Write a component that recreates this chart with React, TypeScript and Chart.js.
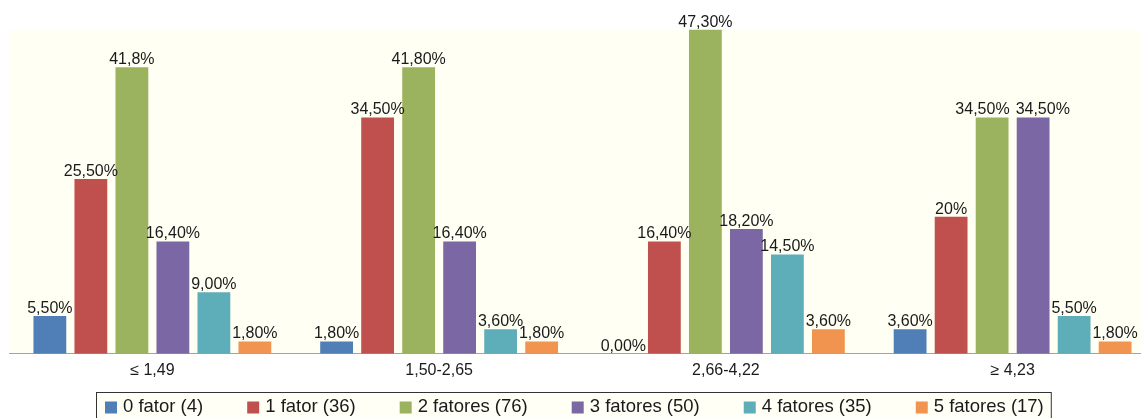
import React, { useEffect, useRef } from 'react';
import { Chart, registerables } from 'chart.js';

Chart.register(...registerables);

const FONT = '"Liberation Sans", Arial, Helvetica, sans-serif';

const categories = ['≤ 1,49', '1,50-2,65', '2,66-4,22', '≥ 4,23'];
const seriesNames = ['0 fator (4)', '1 fator (36)', '2 fatores (76)', '3 fatores (50)', '4 fatores (35)', '5 fatores (17)'];
const seriesColors = ['#4f7fb6', '#c0504d', '#9bb35e', '#7b67a3', '#5eaeb9', '#f09450'];

const fator0 = [5.5, 1.8, 0.0, 3.6];
const fator1 = [25.5, 34.5, 16.4, 20.0];
const fator2 = [41.8, 41.8, 47.3, 34.5];
const fator3 = [16.4, 16.4, 18.2, 34.5];
const fator4 = [9.0, 3.6, 14.5, 5.5];
const fator5 = [1.8, 1.8, 3.6, 1.8];

const labels0 = ['5,50%', '1,80%', '0,00%', '3,60%'];
const labels1 = ['25,50%', '34,50%', '16,40%', '20%'];
const labels2 = ['41,8%', '41,80%', '47,30%', '34,50%'];
const labels3 = ['16,40%', '16,40%', '18,20%', '34,50%'];
const labels4 = ['9,00%', '3,60%', '14,50%', '5,50%'];
const labels5 = ['1,80%', '1,80%', '3,60%', '1,80%'];

const seriesValues = [fator0, fator1, fator2, fator3, fator4, fator5];
const seriesLabels = [labels0, labels1, labels2, labels3, labels4, labels5];

const plotBackground = {
  id: 'plotBackground',
  beforeDraw(chart: any) {
    const { ctx, chartArea } = chart;
    ctx.save();
    ctx.fillStyle = '#fffff3';
    ctx.fillRect(chartArea.left, chartArea.top, chartArea.right - chartArea.left, chartArea.bottom - chartArea.top);
    ctx.restore();
  },
};

const valueLabels = {
  id: 'valueLabels',
  afterDatasetsDraw(chart: any) {
    const { ctx } = chart;
    ctx.save();
    ctx.font = `16px ${FONT}`;
    ctx.fillStyle = '#1a1a1a';
    ctx.textAlign = 'center';
    ctx.textBaseline = 'alphabetic';
    const n = chart.data.labels.length;
    for (let i = 0; i < n; i++) {
      const items: { x: number; y: number; w: number; t: string }[] = [];
      chart.data.datasets.forEach((ds: any, di: number) => {
        const el = chart.getDatasetMeta(di).data[i];
        const t = seriesLabels[di][i];
        items.push({ x: el.x, y: el.y - 3, w: ctx.measureText(t).width, t });
      });
      // spread labels that collide on the same height
      for (let k = 1; k < items.length; k++) {
        const a = items[k - 1];
        const b = items[k];
        if (Math.abs(a.y - b.y) < 10) {
          const overlap = a.x + a.w / 2 + 6 - (b.x - b.w / 2);
          if (overlap > 0) {
            a.x -= overlap / 2;
            b.x += overlap / 2;
          }
        }
      }
      items.forEach((it) => ctx.fillText(it.t, it.x, it.y));
    }
    ctx.restore();
  },
};

const boxLegend = {
  id: 'boxLegend',
  afterDraw(chart: any) {
    const { ctx } = chart;
    ctx.save();
    ctx.font = `18.5px ${FONT}`;
    ctx.textBaseline = 'middle';
    ctx.textAlign = 'left';
    const startX = 105;
    const midY = 407;
    const box = 12;
    const textGap = 18;
    const itemGap = 44;
    let x = startX;
    let lastEnd = x;
    const pos: number[] = [];
    seriesNames.forEach((name) => {
      pos.push(x);
      const w = ctx.measureText(name).width;
      lastEnd = x + textGap + w;
      x = lastEnd + itemGap;
    });
    const left = startX - 9;
    const right = lastEnd + 7;
    ctx.fillStyle = '#fffff6';
    ctx.fillRect(left, 392.5, right - left, 40);
    ctx.strokeStyle = '#333';
    ctx.lineWidth = 1;
    ctx.strokeRect(left + 0.5, 392.5, right - left, 40);
    seriesNames.forEach((name, i) => {
      ctx.fillStyle = seriesColors[i];
      ctx.fillRect(pos[i], midY - 5.5, box, box);
      ctx.fillStyle = '#1a1a1a';
      ctx.fillText(name, pos[i] + textGap, midY);
    });
    ctx.restore();
  },
};

export default function App() {
  const ref = useRef<HTMLCanvasElement | null>(null);
  useEffect(() => {
    if (!ref.current) return;
    const chart = new Chart(ref.current, {
      type: 'bar',
      data: {
        labels: categories,
        datasets: seriesNames.map((name, i) => ({
          label: name,
          data: seriesValues[i],
          backgroundColor: seriesColors[i],
          borderWidth: 0,
          categoryPercentage: 0.858,
          barPercentage: 0.8,
        })),
      },
      options: {
        responsive: false,
        animation: false,
        devicePixelRatio: 1,
        layout: { padding: { left: 9, right: 0, top: 29, bottom: 31 } },
        plugins: {
          legend: { display: false },
          tooltip: { enabled: false },
        },
        scales: {
          x: {
            grid: { display: false, drawTicks: false },
            border: { display: true, color: '#a3a3a3', width: 1 },
            ticks: { font: { size: 16, family: FONT }, color: '#1a1a1a', padding: 7 },
          },
          y: { display: false, min: 0, max: 47.4 },
        },
      },
      plugins: [plotBackground, valueLabels, boxLegend],
    });
    return () => chart.destroy();
  }, []);
  return (
    <div style={{ position: 'fixed', left: 0, top: 0, width: 1141, height: 418, overflow: 'hidden', background: '#ffffff' }}>
      <div style={{ width: 1156, height: 418 }}>
        <canvas ref={ref} width={1156} height={418} style={{ display: 'block' }} />
      </div>
    </div>
  );
}
